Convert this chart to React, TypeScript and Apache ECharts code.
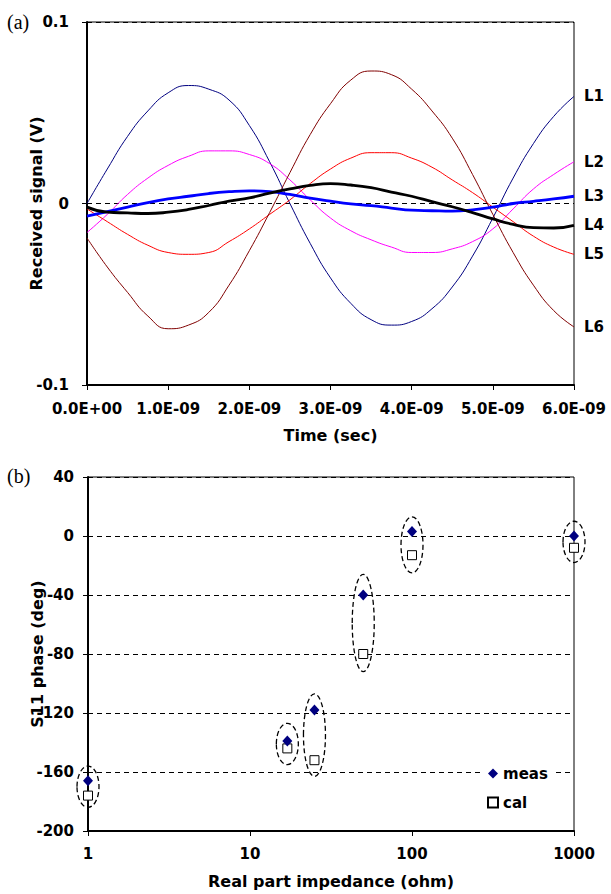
import React, { useEffect, useRef } from 'react';
import * as echarts from 'echarts';

// ---------- chart (a) data ----------
const timeNs = [0, 0.25, 0.5, 0.75, 1, 1.25, 1.5, 1.75, 2, 2.25, 2.5, 2.75, 3, 3.25, 3.5, 3.75, 4, 4.25, 4.5, 4.75, 5, 5.25, 5.5, 5.75, 6];
const lineNames = ['L1', 'L2', 'L3', 'L4', 'L5', 'L6'];
const L1 = [0, 0.019, 0.037, 0.051, 0.061, 0.065, 0.063, 0.057, 0.043, 0.023, 0.0, -0.022, -0.041, -0.055, -0.064, -0.067, -0.065, -0.058, -0.046, -0.029, -0.008, 0.014, 0.033, 0.048, 0.059];
const L2 = [-0.016, -0.006, 0.005, 0.014, 0.021, 0.026, 0.029, 0.029, 0.027, 0.022, 0.013, 0.002, -0.008, -0.015, -0.02, -0.024, -0.027, -0.027, -0.025, -0.021, -0.014, -0.003, 0.008, 0.016, 0.023];
const L3 = [-0.007, -0.0045, -0.002, 0.0005, 0.0025, 0.004, 0.0055, 0.0065, 0.007, 0.0065, 0.005, 0.003, 0.0013, -0.0002, -0.0012, -0.0025, -0.0037, -0.004, -0.0042, -0.0035, -0.002, 0, 0.0012, 0.0025, 0.004];
const L4 = [-0.002, -0.0048, -0.0052, -0.0055, -0.0048, -0.0033, -0.0011, 0.0013, 0.0031, 0.0057, 0.008, 0.01, 0.011, 0.0102, 0.0087, 0.0063, 0.004, 0.001, -0.0018, -0.005, -0.0085, -0.0115, -0.0133, -0.0135, -0.012];
const L5 = [-0.003, -0.01, -0.017, -0.023, -0.027, -0.028, -0.027, -0.021, -0.014, -0.006, 0.002, 0.011, 0.019, 0.025, 0.028, 0.028, 0.025, 0.02, 0.013, 0.006, -0.002, -0.01, -0.018, -0.024, -0.028];
const L6 = [-0.019, -0.035, -0.049, -0.062, -0.069, -0.067, -0.06, -0.045, -0.026, -0.005, 0.017, 0.038, 0.055, 0.068, 0.073, 0.071, 0.063, 0.051, 0.036, 0.016, -0.006, -0.027, -0.045, -0.059, -0.068];
const timeTickLabels = ['0.0E+00', '1.0E-09', '2.0E-09', '3.0E-09', '4.0E-09', '5.0E-09', '6.0E-09'];

// ---------- chart (b) data ----------
const impedance = [1, 17, 25, 50, 100, 1000];
const meas = [-166, -139, -118, -40, 3, 0];
const cal = [-176, -144, -152, -80, -13, -8];
const groupTop = [-156, -127, -107, -26, 13, 10];
const groupBottom = [-184, -155, -163, -92, -25, -18];

const FONT = 'DejaVu Sans';
const lineColors = ['#000080', '#FF00FF', '#0000FF', '#000000', '#FF0000', '#800000'];
const lineWidths = [1, 1, 2.8, 2.8, 1, 1];
const lineValues = [L1, L2, L3, L4, L5, L6];

export default function App() {
  const ref = useRef<HTMLDivElement>(null);
  useEffect(() => {
    if (!ref.current) return;
    const chart = echarts.init(ref.current, null, { renderer: 'svg' });
    const tickFont = { fontFamily: FONT, fontWeight: 'bold' as const, fontSize: 15, color: '#000' };
    const nameFont = { fontFamily: FONT, fontWeight: 'bold' as const, fontSize: 16, color: '#000' };
    const dashed = { color: '#000', width: 1, type: [5, 4] as number[] };

    const lineSeries = lineNames.map((name, k) => ({
      type: 'line',
      name,
      xAxisIndex: 0,
      yAxisIndex: 0,
      data: timeNs.map((t, i) => [t, lineValues[k][i]]),
      smooth: 0.5,
      showSymbol: false,
      symbol: 'none',
      lineStyle: { color: lineColors[k], width: lineWidths[k] },
      itemStyle: { color: lineColors[k] },
      endLabel: {
        show: true,
        formatter: name,
        distance: 10,
        ...tickFont,
      },
      z: k === 2 || k === 3 ? 3 : 2,
    }));

    const option: any = {
      animation: false,
      backgroundColor: '#fff',
      legend: {
        orient: 'vertical',
        left: 484,
        top: 763,
        itemWidth: 10,
        itemHeight: 10,
        itemGap: 14,
        backgroundColor: '#fff',
        padding: [3, 6, 3, 3],
        textStyle: { ...tickFont },
        data: [
          { name: 'meas', icon: 'diamond' },
          { name: 'cal', icon: 'rect' },
        ],
      },
      graphic: [
        { type: 'text', left: 7, top: 12, style: { text: '(a)', font: '20px "Liberation Serif"', fill: '#000' } },
        { type: 'text', left: 7, top: 466, style: { text: '(b)', font: '20px "Liberation Serif"', fill: '#000' } },
      ],
      grid: [
        { left: 87, top: 22, width: 487, height: 363, show: true, borderColor: '#000', borderWidth: 1, containLabel: false, outerBoundsMode: 'none' },
        { left: 88, top: 477, width: 486, height: 354, show: true, borderColor: '#000', borderWidth: 1, containLabel: false, outerBoundsMode: 'none' },
      ],
      xAxis: [
        {
          type: 'value',
          gridIndex: 0,
          min: 0,
          max: 6,
          interval: 1,
          name: 'Time (sec)',
          nameLocation: 'middle',
          nameGap: 42,
          nameTextStyle: nameFont,
          axisLine: { show: true, onZero: false, lineStyle: { color: '#000', width: 2 } },
          axisTick: { show: true, inside: false, length: 5, lineStyle: { color: '#000', width: 1 } },
          axisLabel: { ...tickFont, margin: 16, formatter: (v: number) => timeTickLabels[Math.round(v)] },
          splitLine: { show: false },
        },
        {
          type: 'log',
          logBase: 10,
          gridIndex: 1,
          min: 1,
          max: 1000,
          name: 'Real part impedance (ohm)',
          nameLocation: 'middle',
          nameGap: 42,
          nameTextStyle: nameFont,
          axisLine: { show: true, onZero: false, lineStyle: { color: '#000', width: 2 } },
          axisTick: { show: true, inside: false, length: 5, lineStyle: { color: '#000', width: 1 } },
          minorTick: { show: false },
          axisLabel: { ...tickFont, margin: 15, formatter: (v: number) => String(Math.round(v)) },
          splitLine: { show: false },
        },
      ],
      yAxis: [
        {
          type: 'value',
          gridIndex: 0,
          min: -0.1,
          max: 0.1,
          interval: 0.1,
          name: 'Received signal (V)',
          nameLocation: 'middle',
          nameGap: 43,
          nameMoveOverlap: false,
          nameTextStyle: nameFont,
          axisLine: { show: true, onZero: false, lineStyle: { color: '#000', width: 2 } },
          axisTick: { show: true, inside: false, length: 5, lineStyle: { color: '#000', width: 1 } },
          axisLabel: { ...tickFont, margin: 18, formatter: (v: number) => (Math.abs(v) < 1e-9 ? '0' : String(Math.round(v * 10) / 10)) },
          splitLine: { show: true, lineStyle: dashed },
        },
        {
          type: 'value',
          gridIndex: 1,
          min: -200,
          max: 40,
          interval: 40,
          name: 'S11 phase (deg)',
          nameLocation: 'middle',
          nameGap: 43,
          nameMoveOverlap: false,
          nameTextStyle: nameFont,
          axisLine: { show: true, onZero: false, lineStyle: { color: '#000', width: 2 } },
          axisTick: { show: true, inside: false, length: 5, lineStyle: { color: '#000', width: 1 } },
          axisLabel: { ...tickFont, margin: 14 },
          splitLine: { show: true, lineStyle: dashed },
        },
      ],
      series: [
        ...lineSeries,
        {
          type: 'custom',
          name: 'groups',
          xAxisIndex: 1,
          yAxisIndex: 1,
          encode: { x: 0, y: [1, 2] },
          data: impedance.map((x, i) => [x, groupTop[i], groupBottom[i]]),
          renderItem: (params: any, api: any) => {
            const x = api.value(0);
            const p1 = api.coord([x, api.value(1)]);
            const p2 = api.coord([x, api.value(2)]);
            return {
              type: 'ellipse',
              shape: { cx: p1[0], cy: (p1[1] + p2[1]) / 2, rx: 11, ry: Math.abs(p2[1] - p1[1]) / 2 },
              style: { fill: 'none', stroke: '#000', lineWidth: 1.3, lineDash: [5, 3] },
            };
          },
          z: 1,
        },
        {
          type: 'scatter',
          name: 'cal',
          xAxisIndex: 1,
          yAxisIndex: 1,
          data: impedance.map((x, i) => [x, cal[i]]),
          symbol: 'rect',
          symbolSize: 9,
          itemStyle: { color: '#fff', borderColor: '#000', borderWidth: 1, opacity: 1 },
          z: 3,
        },
        {
          type: 'scatter',
          name: 'meas',
          xAxisIndex: 1,
          yAxisIndex: 1,
          data: impedance.map((x, i) => [x, meas[i]]),
          symbol: 'diamond',
          symbolSize: [10, 11],
          itemStyle: { color: '#000080', opacity: 1 },
          z: 4,
        },
      ],
    };
    chart.setOption(option);
    return () => chart.dispose();
  }, []);
  return <div ref={ref} style={{ position: 'absolute', left: 0, top: 0, width: 611, height: 894 }} />;
}
